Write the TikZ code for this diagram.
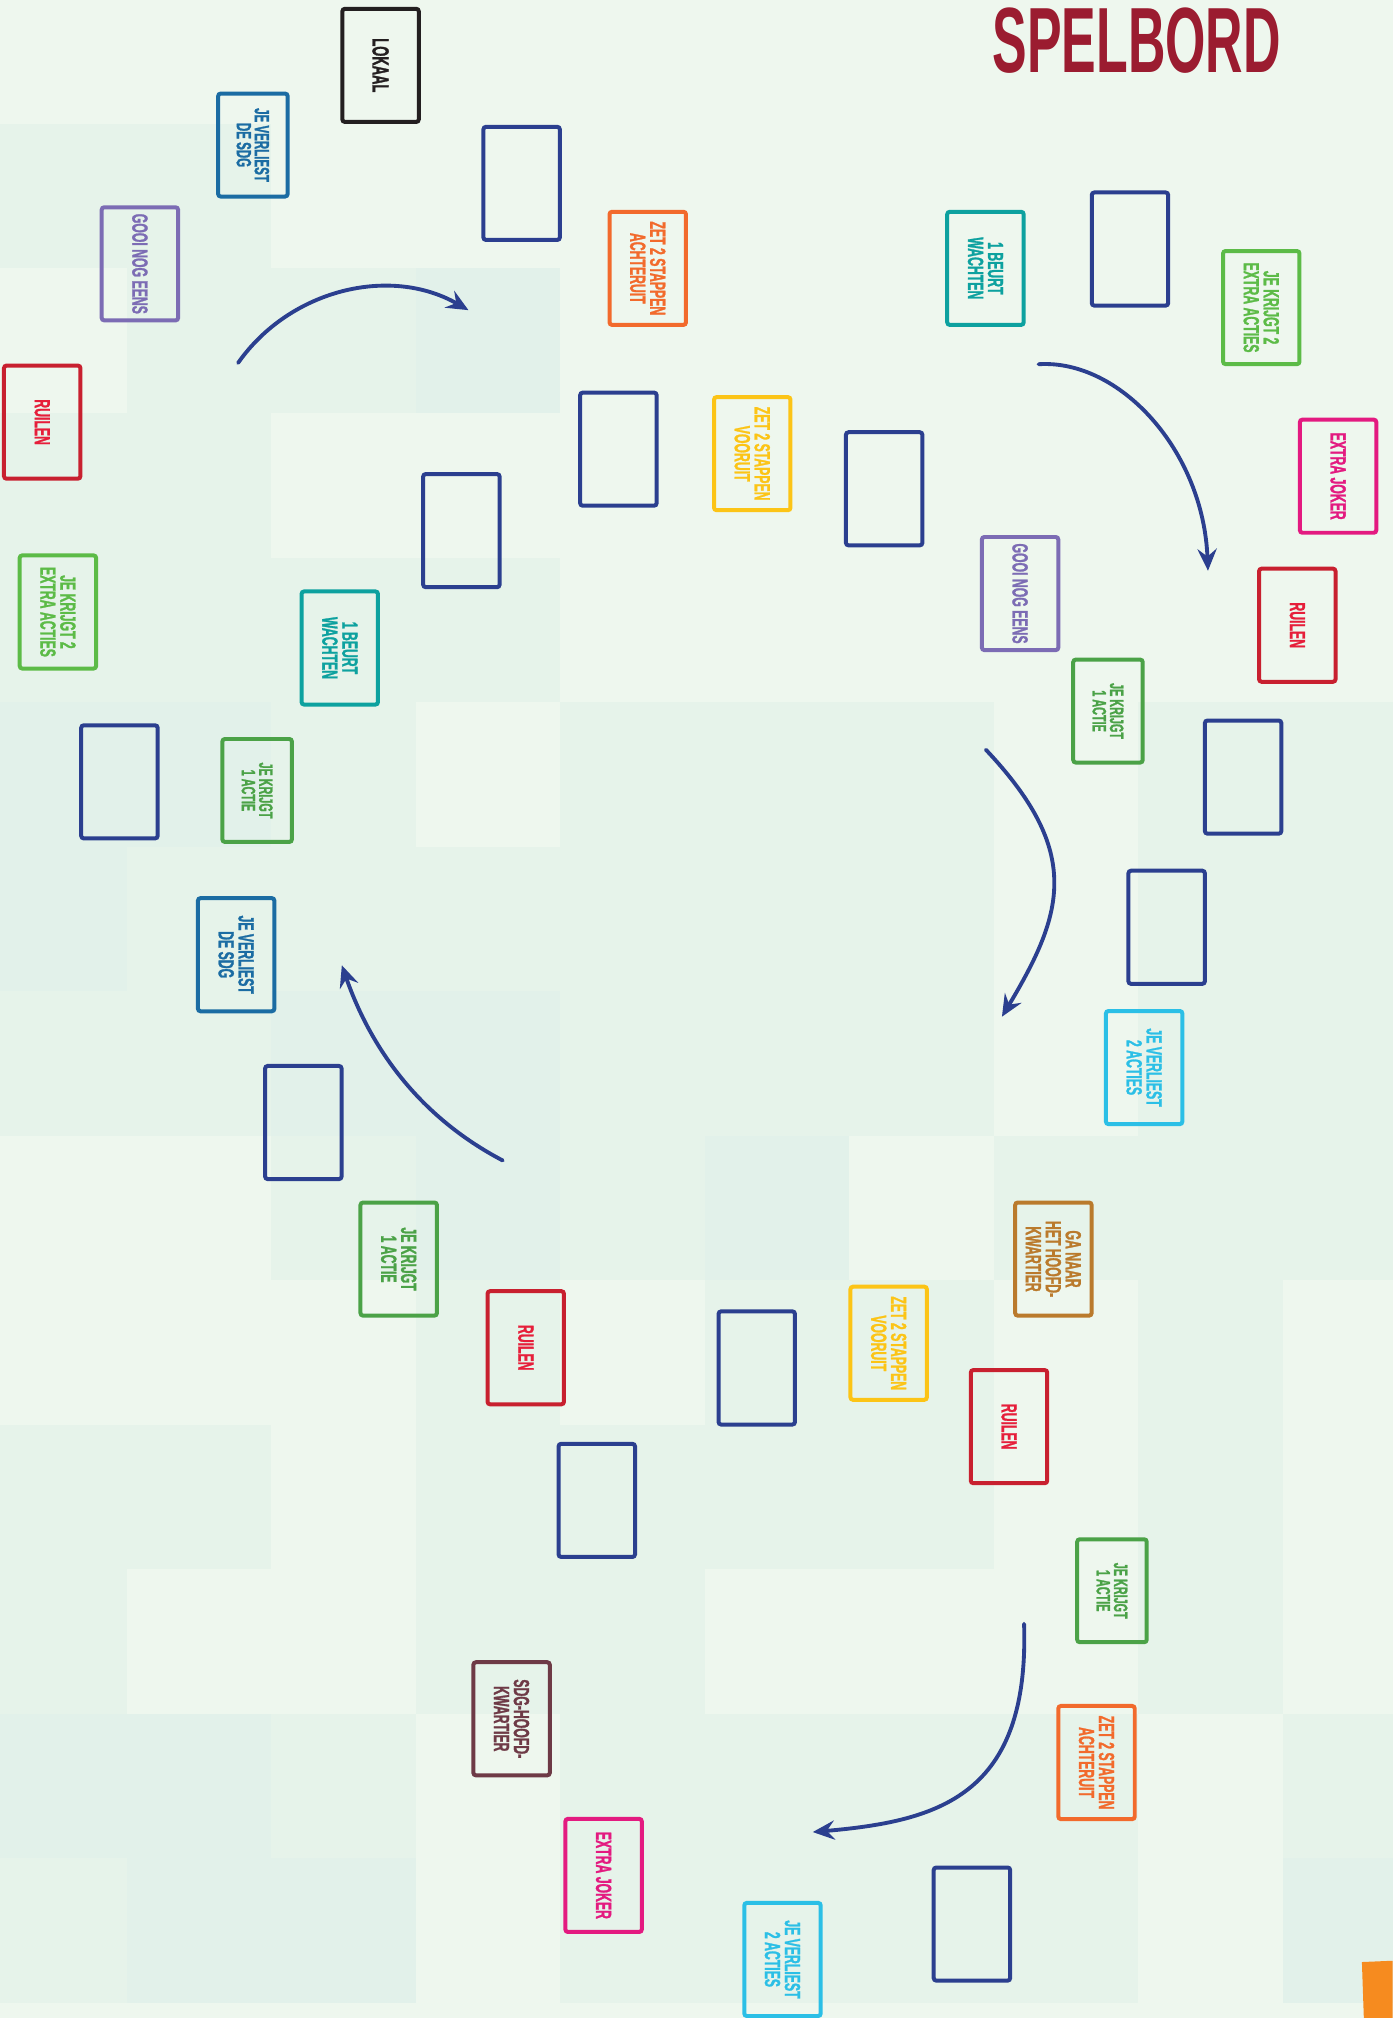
\documentclass[tikz,border=0pt]{standalone}
\usepackage{fontspec}
\newfontfamily\cardfont{Liberation Sans}[FakeStretch=0.56,FakeBold=1.2]
\newfontfamily\titlefont{Liberation Sans}[FakeStretch=0.56]
\usetikzlibrary{arrows.meta}
\definecolor{bg}{HTML}{EEF7EE}
\definecolor{tileA}{HTML}{E6F3EA}
\definecolor{tileB}{HTML}{E2F1EA}
\definecolor{navy}{HTML}{2B3F8F}
\definecolor{cblack}{HTML}{231F20}
\definecolor{cblue}{HTML}{1B6CA3}
\definecolor{cpurple}{HTML}{7C6CB4}
\definecolor{cred}{HTML}{C8202F}
\definecolor{credtext}{HTML}{E61E3A}
\definecolor{corange}{HTML}{F26A2C}
\definecolor{cyellow}{HTML}{FCC416}
\definecolor{cgreenL}{HTML}{5CBB47}
\definecolor{cgreenD}{HTML}{4BA247}
\definecolor{cteal}{HTML}{0DA19F}
\definecolor{cmagenta}{HTML}{E31A80}
\definecolor{ccyan}{HTML}{2BBFE6}
\definecolor{cbrown}{HTML}{BA7A2C}
\definecolor{cmaroon}{HTML}{6E3A46}
\definecolor{ctitle}{HTML}{9B1C30}
\definecolor{ccorner}{HTML}{F68B1F}
\tikzset{
  card/.style={draw=#1, text=#1, line width=3.1pt, rounded corners=2pt,
    minimum width=87.9pt, minimum height=59.4pt, inner sep=0pt, rotate=-90,
    align=center, font=\cardfont\bfseries\fontsize{17}{15.5}\selectfont},
  smallcard/.style={minimum width=80pt, minimum height=54pt,
    font=\cardfont\bfseries\fontsize{15}{13.5}\selectfont},
  redcard/.style={card=cred, text=credtext},
  arr/.style={draw=navy, line width=3pt, line cap=round,
    -{Stealth[length=17pt,width=15pt,inset=6pt]}},
}
\begin{document}
\begin{tikzpicture}[x=1pt,y=-1pt]
\useasboundingbox (0,0) rectangle (1082,1568);
\fill[bg] (0,0) rectangle (1082,1568);
% background tiles
\foreach \c/\r/\s in {0/1/tileA,1/1/tileA,1/2/tileA,2/2/tileA,3/2/tileB,
  0/3/tileA,1/3/tileA,0/4/tileA,1/4/tileA,2/4/tileA,3/4/tileA,
  0/5/tileB,1/5/tileB,2/5/tileA,4/5/tileA,5/5/tileA,6/5/tileA,8/5/tileA,9/5/tileA,
  0/6/tileB,1/6/tileA,2/6/tileA,3/6/tileA,4/6/tileA,5/6/tileA,6/6/tileA,8/6/tileA,9/6/tileA,
  0/7/tileA,1/7/tileA,2/7/tileB,3/7/tileB,4/7/tileA,5/7/tileA,6/7/tileA,8/7/tileA,9/7/tileA,
  2/8/tileA,3/8/tileB,4/8/tileA,5/8/tileB,7/8/tileA,8/8/tileA,9/8/tileA,
  3/9/tileA,5/9/tileA,6/9/tileA,8/9/tileA,
  0/10/tileA,1/10/tileA,3/10/tileA,4/10/tileA,5/10/tileA,6/10/tileA,8/10/tileA,
  0/11/tileA,3/11/tileA,4/11/tileA,8/11/tileA,
  0/12/tileB,1/12/tileB,2/12/tileA,4/12/tileA,5/12/tileA,6/12/tileA,7/12/tileA,9/12/tileA,
  0/13/tileA,1/13/tileB,2/13/tileB,4/13/tileA,5/13/tileA,6/13/tileA,7/13/tileA,9/13/tileB}
  \fill[\s] ({-14+112.3*\c},{-16+112.3*\r}) rectangle +(112.3,112.3);
% corner shape
\fill[ccorner] (1058.2,1524.5) -- (1082,1523.5) -- (1082,1568) -- (1059.7,1568) -- cycle;
% title
\node[anchor=base west, inner sep=0pt, text=ctitle, font=\titlefont\bfseries\fontsize{72}{72}\selectfont] (title) at (771,56.5) {SPELBORD};
% cards
\node[card=cblack, font=\cardfont\bfseries\fontsize{18}{15}\selectfont] (lokaal) at (295.7,50.8) {LOKAAL};
\node[card=cblue, smallcard, font=\cardfont\bfseries\fontsize{16}{14}\selectfont] (sdg1) at (196.5,112.7) {JE VERLIEST\\DE SDG};
\node[card=cpurple] (gooi1) at (108.7,205) {GOOI NOG EENS};
\node[redcard] (ruil1) at (32.8,328) {RUILEN};
\node[card=navy] (b1) at (405.3,142.5) {};
\node[card=corange] (ach1) at (503.3,208.5) {ZET 2 STAPPEN\\ACHTERUIT};
\node[card=navy] (b2) at (480.5,349) {};
\node[card=navy] (b3) at (358.5,412.3) {};
\node[card=cgreenL] (k2a) at (45,475.5) {JE KRIJGT 2\\EXTRA ACTIES};
\node[card=cteal] (wacht1) at (264,503.5) {1 BEURT\\WACHTEN};
\node[card=navy] (b4) at (92.8,607.5) {};
\node[card=cgreenD, smallcard] (k1a) at (199.8,614.2) {JE KRIJGT\\1 ACTIE};
\node[card=cblue] (sdg2) at (183.5,741.8) {JE VERLIEST\\DE SDG};
\node[card=navy] (b5) at (235.7,872.2) {};
\node[card=cyellow] (voor1) at (584.5,352.5) {ZET 2 STAPPEN\\VOORUIT};
\node[card=navy] (b6) at (687,379.8) {};
\node[card=cpurple] (gooi2) at (792.6,461.2) {GOOI NOG EENS};
\node[card=cgreenD, smallcard] (k1b) at (860.9,552.5) {JE KRIJGT\\1 ACTIE};
\node[card=cteal] (wacht2) at (765.7,208.5) {1 BEURT\\WACHTEN};
\node[card=navy] (b7) at (878,193.5) {};
\node[card=cgreenL] (k2b) at (980,239) {JE KRIJGT 2\\EXTRA ACTIES};
\node[card=cmagenta] (joker1) at (1039.7,370) {EXTRA JOKER};
\node[redcard] (ruil2) at (1008,485.8) {RUILEN};
\node[card=navy] (b8) at (965.9,603.8) {};
\node[card=navy] (b9) at (906.5,720.5) {};
\node[card=ccyan] (verl1) at (889,829.5) {JE VERLIEST\\2 ACTIES};
\node[card=cbrown] (hq) at (818.5,978.3) {GA NAAR\\HET HOOFD-\\KWARTIER};
\node[card=cyellow] (voor2) at (690.5,1043.7) {ZET 2 STAPPEN\\VOORUIT};
\node[redcard] (ruil3) at (784,1108.5) {RUILEN};
\node[card=cgreenD] (k1c) at (309.8,978.3) {JE KRIJGT\\1 ACTIE};
\node[redcard] (ruil4) at (408.5,1047.2) {RUILEN};
\node[card=navy] (b10) at (588,1062.9) {};
\node[card=navy] (b11) at (463.7,1165.8) {};
\node[card=cgreenD, smallcard] (k1d) at (864,1236) {JE KRIJGT\\1 ACTIE};
\node[card=corange] (ach2) at (852,1369.5) {ZET 2 STAPPEN\\ACHTERUIT};
\node[card=cmaroon] (sdghq) at (397.5,1335.5) {SDG-HOOFD-\\KWARTIER};
\node[card=cmagenta] (joker2) at (469,1457.2) {EXTRA JOKER};
\node[card=ccyan] (verl2) at (608,1522.5) {JE VERLIEST\\2 ACTIES};
\node[card=navy] (b12) at (755.2,1495) {};
% arrows
\coordinate (a1s) at (185,282);   \coordinate (a1e) at (364,241);
\coordinate (a2s) at (807,283);   \coordinate (a2e) at (938.6,443.5);
\coordinate (a3s) at (766,582.5); \coordinate (a3e) at (778.5,790);
\coordinate (a4s) at (390.6,901.7); \coordinate (a4e) at (265.6,750);
\coordinate (a5s) at (795.7,1261.7); \coordinate (a5e) at (631.5,1423.5);
\draw[arr] (a1s) .. controls (225,225) and (303,206) .. (a1e);
\draw[arr] (a2s) .. controls (870,279) and (935,350) .. (a2e);
\draw[arr] (a3s) .. controls (841,662) and (827,709) .. (a3e);
\draw[arr] (a4s) .. controls (315,862) and (283,800) .. (a4e);
\draw[arr] (a5s) .. controls (800,1395) and (730,1415) .. (a5e);
\end{tikzpicture}
\end{document}
